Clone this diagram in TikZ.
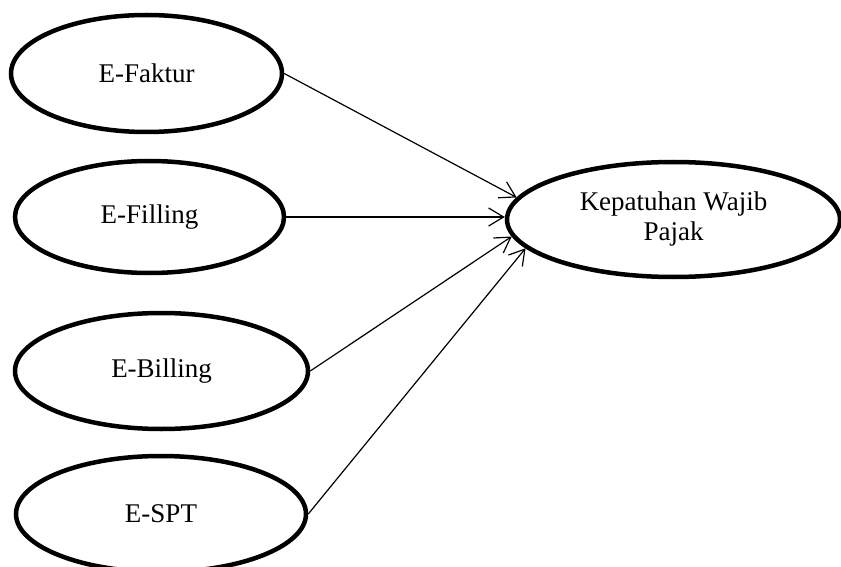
\documentclass[tikz,border=0pt]{standalone}
\usepackage{fontspec}
\setmainfont{Liberation Serif}
\usetikzlibrary{shapes.geometric,arrows.meta}

\begin{document}
\begin{tikzpicture}[x=1pt,y=-1pt,
		var/.style={ellipse,draw,line width=4.5pt,inner sep=0pt,
			font=\fontsize{27}{30}\selectfont,align=center},
		link/.style={line width=1.2pt,-{Straight Barb[length=15pt,width=18pt,line width=1.2pt]}}]

	\useasboundingbox (0,0) rectangle (841,567);

	\node[var,minimum width=271pt,minimum height=117pt] (faktur) at (146.5,73.5) {E-Faktur};
	\node[var,minimum width=269pt,minimum height=112pt] (filling) at (149.5,217) {E-Filling};
	\node[var,minimum width=293pt,minimum height=116pt] (billing) at (161.5,371) {E-Billing};
	\node[var,minimum width=290pt,minimum height=116pt] (spt) at (161,514) {E-SPT};

	\node[var,minimum width=333pt,minimum height=115pt] (patuh) at (673.5,219.5) {Kepatuhan Wajib\\Pajak};

	\draw[link] (faktur.east) -- (patuh.172);
	\draw[link] (filling.east) -- (filling.east -| patuh.west);
	\draw[link] (billing.east) -- (patuh.186);
	\draw[link] (spt.east) -- (patuh.191);

\end{tikzpicture}
\end{document}
